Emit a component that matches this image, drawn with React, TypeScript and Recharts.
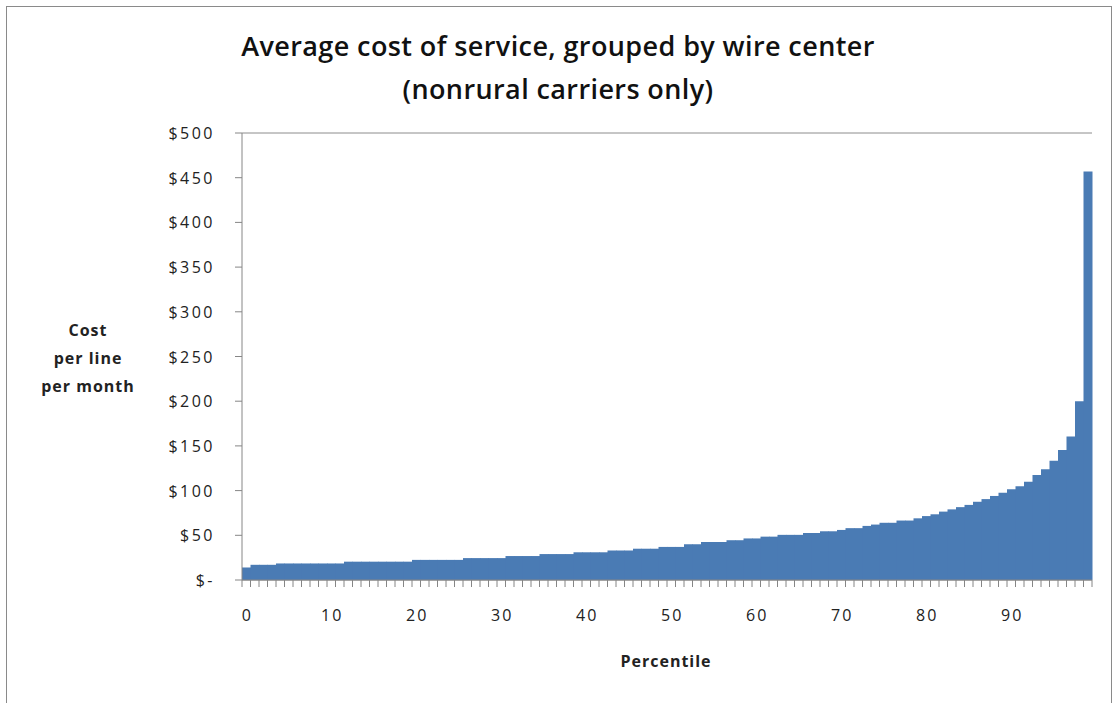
import React from "react"
import { BarChart, Bar, XAxis, YAxis, CartesianGrid } from "recharts"

// percentiles 0..99
const percentiles = Array.from({ length: 100 }, (_, i) => i)

// average cost per line per month
const cost = [
  14, 17, 17, 17, 18.5, 18.5, 18.5, 18.5, 18.5, 18.5, // 0-9
  18.5, 18.5, 20.5, 20.5, 20.5, 20.5, 20.5, 20.5, 20.5, 20.5, // 10-19
  22.5, 22.5, 22.5, 22.5, 22.5, 22.5, 24.5, 24.5, 24.5, 24.5, // 20-29
  24.5, 26.8, 26.8, 26.8, 26.8, 29, 29, 29, 29, 31, // 30-39
  31, 31, 31, 33, 33, 33, 35, 35, 35, 37, // 40-49
  37, 37, 40, 40, 42.5, 42.5, 42.5, 44.5, 44.5, 46.5, // 50-59
  46.5, 48.5, 48.5, 50.5, 50.5, 50.5, 52.6, 52.6, 54.5, 54.5, // 60-69
  56, 58, 58, 60.5, 62, 64, 64, 66.5, 66.5, 69, // 70-79
  71.5, 73.5, 76.5, 79, 81.5, 84, 87.5, 90.5, 94, 97.5, // 80-89
  101.5, 105, 110, 117.5, 124, 133.5, 145.5, 160.5, 200, 457, // 90-99
]

const yTicks = [0, 50, 100, 150, 200, 250, 300, 350, 400, 450, 500]

const data = percentiles.map((p, i) => ({ p, cost: cost[i] }))

const AXIS = "#868686"
const FONT = "'Open Sans', sans-serif"

const XTick = (props: any) => {
  const { x, y, payload, index } = props
  const half = payload?.offset || 4.25
  const showLabel = payload.value % 10 === 0
  return (
    <g>
      {index === 0 && <line x1={x - half} x2={x - half} y1={y} y2={y + 7} stroke={AXIS} />}
      <line x1={x + half} x2={x + half} y1={y} y2={y + 7} stroke={AXIS} />
      {showLabel && (
        <text x={x + 1} y={y + 41} textAnchor="middle" fontSize={16} fill="#222" style={{ letterSpacing: "2px" }}>
          {payload.value}
        </text>
      )}
    </g>
  )
}

const YTick = (props: any) => {
  const { x, y, payload } = props
  const label = payload.value === 0 ? "$-" : `$${payload.value}`
  return (
    <text x={x} y={y + 6} textAnchor="end" fontSize={16} fill="#222" style={{ letterSpacing: "2.5px" }}>
      {label}
    </text>
  )
}

export default function App() {
  return (
    <div style={{ position: "absolute", left: 0, top: 0, width: 1116, height: 703, background: "#fff", fontFamily: FONT, overflow: "hidden" }}>
      <div style={{ position: "absolute", left: 6, top: 6, width: 1104, height: 720, border: "1px solid #8a8a8a" }} />
      <div style={{ position: "absolute", left: 0, width: 1116, top: 24, textAlign: "center", fontSize: 27, fontWeight: 600, color: "#111", lineHeight: "43px", letterSpacing: "0.4px" }}>
        Average cost of service, grouped by wire center
        <br />
        (nonrural carriers only)
      </div>
      <div style={{ position: "absolute", left: 28, width: 120, top: 316, textAlign: "center", fontSize: 16, fontWeight: 700, color: "#222", lineHeight: "28px", letterSpacing: "1px" }}>
        Cost
        <br />
        per line
        <br />
        per month
      </div>
      <div style={{ position: "absolute", left: 566, width: 200, top: 650, textAlign: "center", fontSize: 16, fontWeight: 700, color: "#222", letterSpacing: "1px" }}>
        Percentile
      </div>
      <div style={{ position: "absolute", left: 0, top: 0 }}>
        <BarChart
          width={1116}
          height={703}
          data={data}
          margin={{ top: 133, right: 24, bottom: 63, left: 170 }}
          barCategoryGap={0}
          style={{ fontFamily: FONT }}
        >
          <CartesianGrid vertical={false} stroke="#8c8c8c" />
          <XAxis
            dataKey="p"
            interval={0}
            height={60}
            tickSize={0}
            tickMargin={0}
            tickLine={false}
            axisLine={{ stroke: AXIS }}
            tick={<XTick />}
          />
          <YAxis
            yAxisId="left"
            width={72}
            domain={[0, 500]}
            ticks={yTicks}
            interval={0}
            tickSize={7}
            tickMargin={20}
            tickLine={{ stroke: AXIS }}
            axisLine={{ stroke: AXIS }}
            tick={<YTick />}
          />
          <YAxis yAxisId="right" orientation="right" width={0} domain={[0, 500]} tick={false} tickLine={false} axisLine={{ stroke: AXIS }} />
          <Bar yAxisId="left" dataKey="cost" fill="#4a7bb4" isAnimationActive={false} />
        </BarChart>
      </div>
    </div>
  )
}
